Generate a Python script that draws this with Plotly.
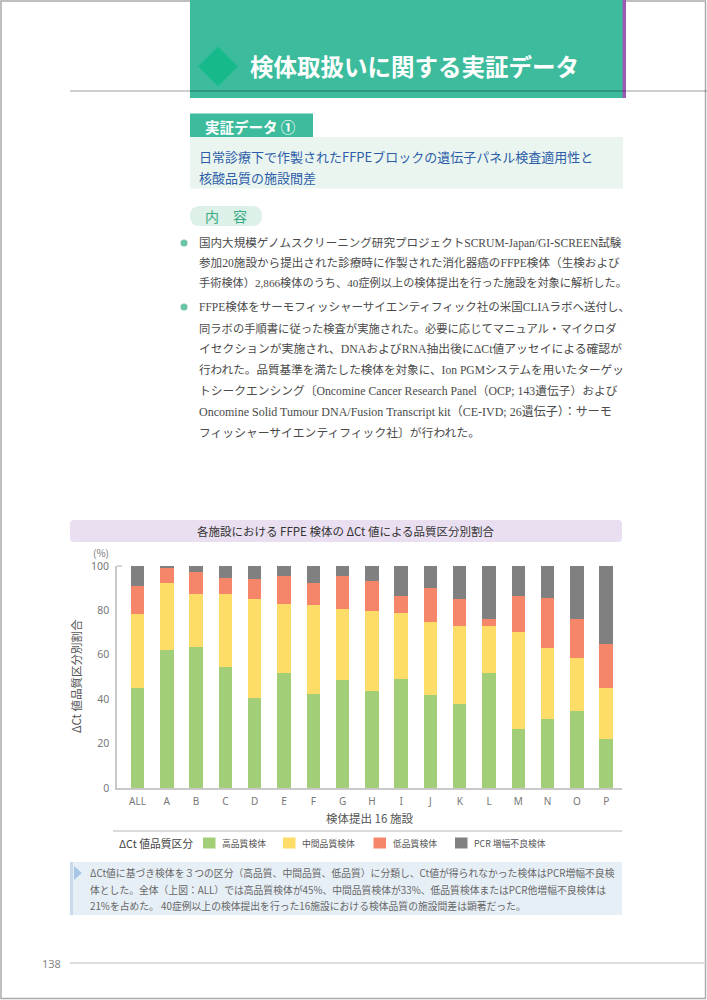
import plotly.graph_objects as go

W, H = 707, 1000

# ---------------- data ----------------
categories = ['ALL', 'A', 'B', 'C', 'D', 'E', 'F', 'G', 'H', 'I', 'J', 'K', 'L', 'M', 'N', 'O', 'P']
high_quality = [45.2, 62.0, 63.4, 54.7, 40.5, 52.0, 42.3, 48.6, 43.5, 48.9, 41.9, 38.0, 51.8, 26.6, 31.2, 34.7, 22.2]
mid_quality = [33.3, 30.2, 24.1, 32.5, 44.5, 31.0, 40.1, 32.0, 36.1, 29.9, 33.0, 35.1, 21.3, 43.8, 31.7, 23.9, 22.7]
low_quality = [12.3, 7.0, 9.6, 7.2, 9.0, 12.3, 9.9, 15.0, 13.8, 7.5, 15.0, 11.9, 2.9, 16.2, 22.5, 17.4, 20.1]
pcr_failure = [9.2, 0.8, 2.9, 5.6, 6.0, 4.7, 7.7, 4.4, 6.6, 13.7, 10.1, 15.0, 24.0, 13.4, 14.6, 24.0, 35.0]
series_names = ['高品質検体', '中間品質検体', '低品質検体', 'PCR 増幅不良検体']
series_colors = ['#A3CE78', '#FEDC68', '#F5866A', '#808080']
y_ticks = [0, 20, 40, 60, 80, 100]

chart_title = '各施設における FFPE 検体の ΔCt 値による品質区分別割合'
y_title = 'ΔCt 値品質区分別割合'
x_title = '検体提出 16 施設'
legend_title = 'ΔCt 値品質区分'

header_title = '検体取扱いに関する実証データ'
section_label = '実証データ ①'
subtitle_lines = ['日常診療下で作製されたFFPEブロックの遺伝子パネル検査適用性と',
                  '核酸品質の施設間差']
content_label = '内　容'
bullet1_lines = [
    '国内大規模ゲノムスクリーニング研究プロジェクトSCRUM-Japan/GI-SCREEN試験',
    '参加20施設から提出された診療時に作製された消化器癌のFFPE検体（生検および',
    '手術検体）2,866検体のうち、40症例以上の検体提出を行った施設を対象に解析した。',
]
bullet2_lines = [
    'FFPE検体をサーモフィッシャーサイエンティフィック社の米国CLIAラボへ送付し、',
    '同ラボの手順書に従った検査が実施された。必要に応じてマニュアル・マイクロダ',
    'イセクションが実施され、DNAおよびRNA抽出後にΔCt値アッセイによる確認が',
    '行われた。品質基準を満たした検体を対象に、Ion PGMシステムを用いたターゲッ',
    'トシークエンシング〔Oncomine Cancer Research Panel（OCP; 143遺伝子）および',
    'Oncomine Solid Tumour DNA/Fusion Transcript kit（CE-IVD; 26遺伝子）：サーモ',
    'フィッシャーサイエンティフィック社〕が行われた。',
]
caption_lines = [
    'ΔCt値に基づき検体を３つの区分（高品質、中間品質、低品質）に分類し、Ct値が得られなかった検体はPCR増幅不良検',
    '体とした。全体（上図：ALL）では高品質検体が45%、中間品質検体が33%、低品質検体またはPCR他増幅不良検体は',
    '21%を占めた。 40症例以上の検体提出を行った16施設における検体品質の施設間差は顕著だった。',
]
page_number = '138'

# ---------------- styles ----------------
JP = 'Noto Sans CJK JP'
SERIF = 'Liberation Serif, Noto Sans CJK JP'
bullet1_sizes = [11.55, 11.6, 11.2]
bullet2_sizes = [11.5, 11.3, 11.8, 11.6, 11.75, 12.0, 11.8]
legend_swatch_x = [203, 283, 373.5, 455]


def X(p):
    return p / W


def Y(p):
    return 1 - p / H


def path_pts(pts):
    s = 'M ' + ' L '.join(f'{X(a):.5f},{Y(b):.5f}' for a, b in pts)
    return s + ' Z'


def rrect(x0, y0, x1, y1, r):
    def P(a, b):
        return f'{X(a):.5f},{Y(b):.5f}'
    return (f'M {P(x0 + r, y0)} L {P(x1 - r, y0)} Q {P(x1, y0)} {P(x1, y0 + r)} '
            f'L {P(x1, y1 - r)} Q {P(x1, y1)} {P(x1 - r, y1)} L {P(x0 + r, y1)} '
            f'Q {P(x0, y1)} {P(x0, y1 - r)} L {P(x0, y0 + r)} Q {P(x0, y0)} {P(x0 + r, y0)} Z')


fig = go.Figure()
for name, vals, col in zip(series_names, [high_quality, mid_quality, low_quality, pcr_failure], series_colors):
    fig.add_trace(go.Bar(x=categories, y=vals, name=name, marker=dict(color=col, line=dict(width=0)),
                         width=0.46, showlegend=False))

shapes = []
annotations = []

# page border
shapes.append(dict(type='rect', xref='paper', yref='paper', x0=X(1), x1=X(705.5), y0=Y(998.5), y1=Y(1),
                   line=dict(color='#ababab', width=1.5), fillcolor='rgba(0,0,0,0)', layer='below'))
# header block
shapes.append(dict(type='rect', xref='paper', yref='paper', x0=X(190), x1=X(626), y0=Y(98), y1=Y(0),
                   fillcolor='#3DBC9D', line=dict(width=0), layer='below'))
shapes.append(dict(type='rect', xref='paper', yref='paper', x0=X(622.5), x1=X(626), y0=Y(98), y1=Y(0),
                   fillcolor='#9B5AB5', line=dict(width=0), layer='below'))
shapes.append(dict(type='line', xref='paper', yref='paper', x0=X(70), x1=X(707), y0=Y(91), y1=Y(91),
                   line=dict(color='rgba(0,0,0,0.25)', width=1.5)))
shapes.append(dict(type='path', xref='paper', yref='paper',
                   path=path_pts([(198, 66.5), (218, 46.5), (238, 66.5), (218, 86.5)]),
                   fillcolor='#16B98A', line=dict(color='#2DC096', width=1)))
annotations.append(dict(x=X(248), y=Y(66), xref='paper', yref='paper', xanchor='left', yanchor='middle',
                        text=f'<b>{header_title}</b>', showarrow=False,
                        font=dict(family=JP, size=23.5, color='white')))

# section label + subtitle box
shapes.append(dict(type='rect', xref='paper', yref='paper', x0=X(190), x1=X(313), y0=Y(137), y1=Y(113.5),
                   fillcolor='#3DBC9D', line=dict(width=0), layer='below'))
annotations.append(dict(x=X(203), y=Y(126), xref='paper', yref='paper', xanchor='left', yanchor='middle',
                        text=f'<b>{section_label}</b>', showarrow=False,
                        font=dict(family=JP, size=14.5, color='white')))
shapes.append(dict(type='rect', xref='paper', yref='paper', x0=X(190), x1=X(623), y0=Y(188.5), y1=Y(137),
                   fillcolor='#EAF5F0', line=dict(width=0), layer='below'))
for i, ln in enumerate(subtitle_lines):
    annotations.append(dict(x=X(197), y=Y(156 + 22 * i), xref='paper', yref='paper', xanchor='left',
                            yanchor='middle', text=ln, showarrow=False,
                            font=dict(family=JP, size=13.0, color='#2D5DA8')))

# content pill
shapes.append(dict(type='path', xref='paper', yref='paper', path=rrect(190, 206, 262, 226, 10),
                   fillcolor='#DDF1E8', line=dict(width=0), layer='below'))
annotations.append(dict(x=X(226), y=Y(216), xref='paper', yref='paper', xanchor='center', yanchor='middle',
                        text=content_label, showarrow=False, font=dict(family=JP, size=14, color='#3AAA85')))

# bullet paragraphs
for yb in (243, 307):
    shapes.append(dict(type='circle', xref='paper', yref='paper', x0=X(180.5), x1=X(187.5),
                       y0=Y(yb + 3.5), y1=Y(yb - 3.5),
                       fillcolor='#6CC5AA', line=dict(width=0)))
for i, (ln, fs) in enumerate(zip(bullet1_lines, bullet1_sizes)):
    annotations.append(dict(x=X(197), y=Y(243 + 20 * i), xref='paper', yref='paper', xanchor='left',
                            yanchor='middle', text=ln, showarrow=False,
                            font=dict(family=SERIF, size=fs, color='#4a4a4a')))
for i, (ln, fs) in enumerate(zip(bullet2_lines, bullet2_sizes)):
    annotations.append(dict(x=X(197), y=Y(307 + 21 * i), xref='paper', yref='paper', xanchor='left',
                            yanchor='middle', text=ln, showarrow=False,
                            font=dict(family=SERIF, size=fs, color='#4a4a4a')))

# chart title box
shapes.append(dict(type='path', xref='paper', yref='paper', path=rrect(70, 520, 622, 542, 4),
                   fillcolor='#E9DFF0', line=dict(width=0), layer='below'))
annotations.append(dict(x=X(346), y=Y(531), xref='paper', yref='paper', xanchor='center', yanchor='middle',
                        text=chart_title, showarrow=False, font=dict(family=JP, size=11.5, color='#333')))
annotations.append(dict(x=X(101), y=Y(552), xref='paper', yref='paper', xanchor='center', yanchor='middle',
                        text='(%)', showarrow=False, font=dict(family=JP, size=10, color='#777')))
# y axis title
annotations.append(dict(x=X(76), y=Y(676), xref='paper', yref='paper', xanchor='center', yanchor='middle',
                        text=y_title, textangle=-90, showarrow=False,
                        font=dict(family=JP, size=11.5, color='#555')))
# small top tick on y axis
shapes.append(dict(type='line', xref='paper', yref='paper', x0=X(117), x1=X(122), y0=Y(566), y1=Y(566),
                   line=dict(color='#c8c8c8', width=1.5)))
# legend separator
shapes.append(dict(type='line', xref='paper', yref='paper', x0=X(113), x1=X(622), y0=Y(831), y1=Y(831),
                   line=dict(color='#cfcfcf', width=1.5)))

# legend (title, swatches, labels)
annotations.append(dict(x=X(117), y=Y(843), xref='paper', yref='paper', xanchor='left', yanchor='middle',
                        text=legend_title, showarrow=False, font=dict(family=JP, size=10.8, color='#444')))
for name, col, sx in zip(series_names, series_colors, legend_swatch_x):
    shapes.append(dict(type='rect', xref='paper', yref='paper', x0=X(sx), x1=X(sx + 12.5),
                       y0=Y(848.5), y1=Y(837.5), fillcolor=col, line=dict(width=0)))
    annotations.append(dict(x=X(sx + 17), y=Y(843), xref='paper', yref='paper', xanchor='left',
                            yanchor='middle', text=name, showarrow=False,
                            font=dict(family=JP, size=8.8, color='#555')))

# caption box
shapes.append(dict(type='rect', xref='paper', yref='paper', x0=X(70), x1=X(622), y0=Y(915), y1=Y(862),
                   fillcolor='#E7EFF6', line=dict(width=0), layer='below'))
shapes.append(dict(type='rect', xref='paper', yref='paper', x0=X(70), x1=X(73), y0=Y(915), y1=Y(862),
                   fillcolor='#C9DAEB', line=dict(width=0), layer='below'))
shapes.append(dict(type='path', xref='paper', yref='paper',
                   path=path_pts([(74, 866), (82, 873), (74, 880)]),
                   fillcolor='#A8C7E6', line=dict(width=0)))
for i, ln in enumerate(caption_lines):
    annotations.append(dict(x=X(88), y=Y(873 + 16.5 * i), xref='paper', yref='paper', xanchor='left',
                            yanchor='middle', text=ln, showarrow=False,
                            font=dict(family=JP, size=9.8, color='#666')))

# page number and footer line
annotations.append(dict(x=X(51), y=Y(963), xref='paper', yref='paper', xanchor='center', yanchor='middle',
                        text=page_number, showarrow=False, font=dict(family='Noto Sans', size=11, color='#888')))
shapes.append(dict(type='line', xref='paper', yref='paper', x0=X(70), x1=X(707), y0=Y(963), y1=Y(963),
                   line=dict(color='#d0d0d0', width=1.5)))

fig.update_layout(
    width=W, height=H,
    margin=dict(l=0, r=0, t=0, b=0),
    paper_bgcolor='white', plot_bgcolor='white',
    barmode='stack', bargap=0,
    showlegend=False,
    xaxis=dict(domain=[X(117), X(622)], range=[-0.7, 16.54], type='category',
               showline=True, linecolor='#c8c8c8', linewidth=1.5, showgrid=False, ticks='',
               tickfont=dict(family='Noto Sans', size=10, color='#777'), automargin=False,
               ticklabelstandoff=3,
               title=dict(text=x_title, font=dict(family=JP, size=11.5, color='#555'), standoff=8)),
    yaxis=dict(domain=[Y(788), Y(566)], range=[0, 100], tickvals=y_ticks,
               showline=True, linecolor='#c8c8c8', linewidth=1.5, showgrid=False, zeroline=False, ticks='',
               tickfont=dict(family='Noto Sans', size=10.5, color='#777'), ticklabelstandoff=4,
               automargin=False),
    shapes=shapes, annotations=annotations,
)

fig.write_html('out.html', config={'displayModeBar': False},
               post_script="document.body.style.margin='0';")
